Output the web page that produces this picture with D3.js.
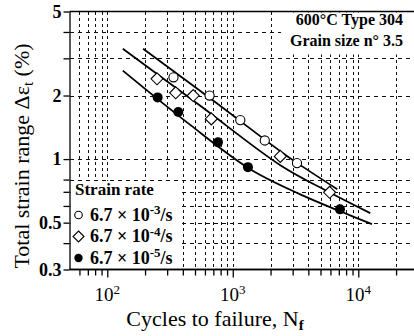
<!DOCTYPE html>
<html><head><meta charset="utf-8">
<script src="https://cdn.jsdelivr.net/npm/d3@7"></script>
<style>
html,body{margin:0;padding:0;background:#fff;}
svg{display:block;}
svg text{font-family:"Liberation Serif","Times New Roman",serif;}
</style></head>
<body>
<svg id="chart" width="414" height="336"></svg>
<script>
// ---- data ----
const circleN = [337, 653, 1148, 1799, 3248];
const circleE = [2.44, 2.0, 1.53, 1.225, 0.957];
const diamondN = [249, 351, 484, 674, 2390, 5907];
const diamondE = [2.40, 2.06, 2.0, 1.55, 1.03, 0.696];
const filledN = [252, 368, 762, 1321, 7149];
const filledE = [1.96, 1.67, 1.20, 0.916, 0.578];

const fitA_N = [193, 660, 2390, 3270, 6800];
const fitA_E = [3.33, 1.94, 1.09, 0.957, 0.72];
const fitB_N = [133, 551, 2390, 5875, 12460];
const fitB_E = [3.33, 1.788, 0.936, 0.697, 0.555];
const fitC_N = [133, 458, 1378, 3450, 7190, 12850];
const fitC_E = [2.624, 1.452, 0.896, 0.681, 0.566, 0.492];

const xMajorTicks = [100, 1000, 10000];
const xMajorExp = ["2", "3", "4"];
const xMinorTicks = [60,70,80,90,200,300,400,500,600,700,800,900,2000,3000,4000,5000,6000,7000,8000,9000,20000];
const yTicks = [5,4,3,2,1,0.8,0.7,0.6,0.5,0.4,0.3];
const yLabelled = [5,2,1,0.5,0.3];
const yGrid = [4,3,2,1,0.8,0.7,0.6,0.5,0.4];

const legendTitle = "Strain rate";
const rateMantissa = ["6.7 × 10", "6.7 × 10", "6.7 × 10"];
const rateExp = ["-3", "-4", "-5"];
const rateUnit = "/s";
const noteLines = ["600°C Type 304", "Grain size n° 3.5"];

// ---- layout ----
const FONT = "Liberation Serif, Times New Roman, serif";
const svg = d3.select("#chart");
const x = d3.scaleLog().domain([50, 28000]).range([69.5, 69.5 + 125.5 * Math.log10(28000/50)]);
const y = d3.scaleLog().domain([5, 0.3]).range([11.5, 269.5]);
const X0 = 69.5, X1 = 414, Y0 = 11.5, Y1 = 269.5;
const px = v => Math.round(x(v)) + 0.5;
const py = v => Math.round(y(v)) + 0.5;

// grid
const g = svg.append("g");
g.selectAll("line.v").data(xMinorTicks.concat(xMajorTicks)).join("line")
  .attr("x1", px).attr("x2", px).attr("y1", Y0).attr("y2", Y1)
  .attr("stroke", "#111").attr("stroke-width", 1).attr("stroke-dasharray", "3,3")
  .attr("shape-rendering", "crispEdges");
g.selectAll("line.h").data(yGrid).join("line")
  .attr("x1", X0).attr("x2", X1).attr("y1", py).attr("y2", py)
  .attr("stroke", "#111").attr("stroke-width", 1).attr("stroke-dasharray", "4,4")
  .attr("shape-rendering", "crispEdges");

// white boxes (legend and note)
svg.append("rect").attr("x", 70.5).attr("y", 181).attr("width", 111).attr("height", 88).attr("fill", "#fff");
svg.append("rect").attr("x", 281).attr("y", 12.5).attr("width", 133).attr("height", 42).attr("fill", "#fff");

// axes
const yAxis = d3.axisLeft(y).tickValues(yTicks).tickSize(6).tickSizeOuter(0)
  .tickFormat(d => yLabelled.includes(d) ? String(d) : "");
const ya = svg.append("g").attr("transform", `translate(${X0},0)`).call(yAxis).attr("font-family", FONT);
ya.selectAll("text").attr("font-family", FONT).attr("font-size", 18)
  .attr("font-weight", "bold").attr("fill", "#000").attr("x", -8);
ya.selectAll("line,path").attr("stroke", "#000").attr("stroke-width", 1.3);

const xMinor = d3.axisBottom(x).tickValues(xMinorTicks).tickSize(6).tickSizeOuter(0).tickFormat("");
const xa = svg.append("g").attr("transform", `translate(0,${Y1})`).call(xMinor);
const xMaj = d3.axisBottom(x).tickValues(xMajorTicks).tickSize(8).tickSizeOuter(0).tickFormat("");
const xb = svg.append("g").attr("transform", `translate(0,${Y1})`).call(xMaj);
xa.selectAll("line,path").attr("stroke", "#000").attr("stroke-width", 1.3);
xb.selectAll("line,path").attr("stroke", "#000").attr("stroke-width", 1.3);
xa.select("path").attr("d", `M${X0},0H${X1}`);
xb.select("path").attr("d", `M${X0},0H${X1}`);

// top border
svg.append("line").attr("x1", X0).attr("x2", X1).attr("y1", Y0).attr("y2", Y0)
  .attr("stroke", "#000").attr("stroke-width", 1.3);

// x tick labels
xMajorTicks.forEach((v, i) => {
  const t = svg.append("text").attr("x", x(v)).attr("y", 301).attr("text-anchor", "middle")
    .attr("font-family", FONT).attr("font-size", 19);
  t.append("tspan").text("10");
  t.append("tspan").attr("dy", -7).attr("font-size", 13).text(xMajorExp[i]);
});

// axis titles
const xt = svg.append("text").attr("x", 215).attr("y", 326).attr("text-anchor", "middle")
  .attr("font-family", FONT).attr("font-size", 22);
xt.append("tspan").text("Cycles to failure, N");
xt.append("tspan").attr("dy", 4).attr("font-size", 15).attr("font-weight", "bold").text("f");

const yt = svg.append("text").attr("transform", "translate(29,156) rotate(-90)")
  .attr("text-anchor", "middle").attr("font-family", FONT).attr("font-size", 22);
yt.append("tspan").text("Total strain range Δε");
yt.append("tspan").attr("dy", 4).attr("font-size", 15).text("t");
yt.append("tspan").attr("dy", -4).text(" (%)");

// fitted curves
const line = d3.line().x(d => x(d[0])).y(d => y(d[1])).curve(d3.curveCatmullRom);
[[fitA_N, fitA_E], [fitB_N, fitB_E], [fitC_N, fitC_E]].forEach(([n, e]) => {
  svg.append("path").attr("d", line(n.map((v, i) => [v, e[i]])))
    .attr("fill", "none").attr("stroke", "#000").attr("stroke-width", 1.8);
});

// markers
const diamondPath = s => `M0,${-s}L${s},0L0,${s}L${-s},0Z`;
svg.selectAll("circle.o").data(circleN.map((v, i) => [v, circleE[i]])).join("circle")
  .attr("cx", d => x(d[0])).attr("cy", d => y(d[1])).attr("r", 4.6)
  .attr("fill", "#fff").attr("stroke", "#000").attr("stroke-width", 1.1);
svg.selectAll("path.d").data(diamondN.map((v, i) => [v, diamondE[i]])).join("path")
  .attr("transform", d => `translate(${x(d[0])},${y(d[1])})`).attr("d", diamondPath(6))
  .attr("fill", "#fff").attr("stroke", "#000").attr("stroke-width", 1.1);
svg.selectAll("circle.f").data(filledN.map((v, i) => [v, filledE[i]])).join("circle")
  .attr("cx", d => x(d[0])).attr("cy", d => y(d[1])).attr("r", 5)
  .attr("fill", "#000");

// legend
svg.append("text").attr("x", 75).attr("y", 195).attr("font-family", FONT).attr("font-size", 17)
  .attr("font-weight", "bold").text(legendTitle);
const rowY = [220.5, 242, 263.5];
rateMantissa.forEach((m, i) => {
  const cy = rowY[i] - 5.5;
  if (i === 0) svg.append("circle").attr("cx", 78.5).attr("cy", cy).attr("r", 3.8)
    .attr("fill", "#fff").attr("stroke", "#000").attr("stroke-width", 1.1);
  if (i === 1) svg.append("path").attr("transform", `translate(78.5,${cy})`).attr("d", diamondPath(5.5))
    .attr("fill", "#fff").attr("stroke", "#000").attr("stroke-width", 1.1);
  if (i === 2) svg.append("circle").attr("cx", 78.5).attr("cy", cy).attr("r", 4.2).attr("fill", "#000");
  const t = svg.append("text").attr("x", 90).attr("y", rowY[i]).attr("font-family", FONT)
    .attr("font-size", 18).attr("font-weight", "bold");
  t.append("tspan").text(m);
  t.append("tspan").attr("dy", -6.5).attr("font-size", 13).text(rateExp[i]);
  t.append("tspan").attr("dy", 6.5).text(rateUnit);
});

// note
noteLines.forEach((s, i) => {
  svg.append("text").attr("x", 403).attr("y", 25 + i * 21).attr("text-anchor", "end")
    .attr("font-family", FONT).attr("font-size", 16).attr("font-weight", "bold").text(s);
});
</script>
</body></html>
